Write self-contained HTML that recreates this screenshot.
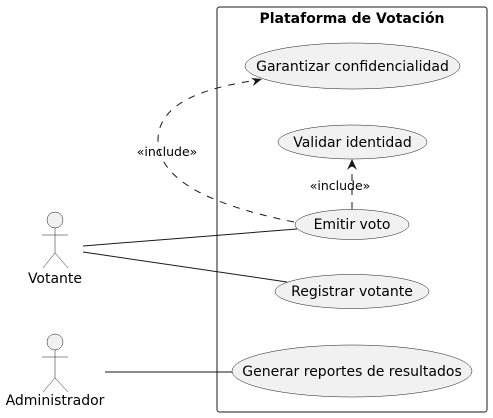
<!DOCTYPE html>
<html><head><style>body{margin:0;background:#fff}svg{display:block}</style></head><body>
<svg width="493" height="418" viewBox="0 0 493 418" xmlns="http://www.w3.org/2000/svg" font-family="'DejaVu Sans','Liberation Sans',sans-serif">
<rect x="217" y="7" width="270" height="405" rx="2.5" fill="#fff" stroke="#181818" stroke-width="1"/>
<text x="352" y="23" font-size="14" font-weight="bold" text-anchor="middle" fill="#000">Plataforma de Votación</text>
<g fill="#f1f1f1" stroke="#181818" stroke-width="0.5">
<ellipse cx="352.5" cy="66" rx="107.5" ry="23"/>
<ellipse cx="352.5" cy="142" rx="74.5" ry="17"/>
<ellipse cx="352" cy="224.5" rx="57" ry="15"/>
<ellipse cx="352" cy="291.5" rx="77" ry="17"/>
<ellipse cx="352" cy="371" rx="120" ry="26"/>
</g>
<g font-size="14" text-anchor="middle" fill="#000">
<text x="352.5" y="71">Garantizar confidencialidad</text>
<text x="352.5" y="147">Validar identidad</text>
<text x="352" y="229">Emitir voto</text>
<text x="352" y="296">Registrar votante</text>
<text x="352" y="376">Generar reportes de resultados</text>
<text x="55" y="283">Votante</text>
<text x="55" y="405">Administrador</text>
</g>
<g fill="#f1f1f1" stroke="#181818" stroke-width="0.5">
<circle cx="55" cy="220" r="8"/>
<path d="M55 228V253M42 235H68M43 268L55 253L68 268" fill="none"/>
<circle cx="55" cy="342" r="8"/>
<path d="M55 350V378M42 357H68M43 392L55 378L68 392" fill="none"/>
</g>
<g stroke="#181818" stroke-width="1" fill="none">
<path d="M83 246L297 229"/>
<path d="M83 252L287 282"/>
<path d="M105 372L232 372"/>
<path d="M352 209V161" stroke-dasharray="7,7"/>
<path d="M294 222C210 205 158 180 158 140C158 105 200 88 258 80" stroke-dasharray="7,7"/>
</g>
<path d="M352 159L347 170L352 166L357 170Z" fill="#181818"/>
<path d="M262 79L251 78L255 81L253 86Z" fill="#181818"/>
<g font-size="12.5" text-anchor="middle" fill="#000">
<text x="340" y="190">«include»</text>
<text x="167" y="156">«include»</text>
</g>
</svg>
</body></html>
